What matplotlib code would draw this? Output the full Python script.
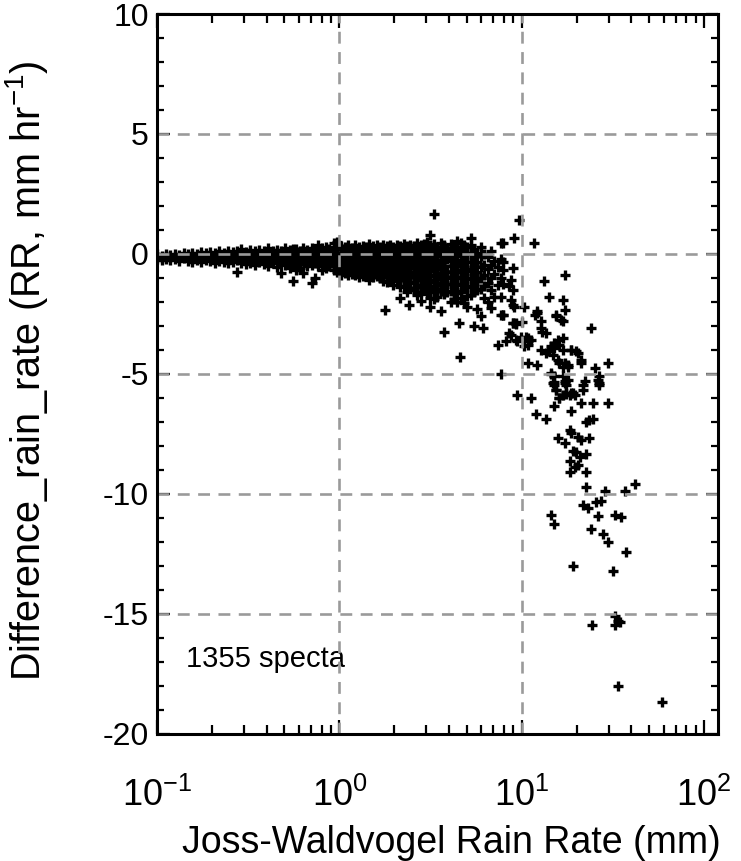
import matplotlib
matplotlib.use("Agg")
import matplotlib.pyplot as plt
from matplotlib.ticker import FixedLocator, FixedFormatter, MultipleLocator, NullFormatter

plt.rcParams['font.family'] = ['Liberation Sans', 'DejaVu Sans']
plt.rcParams['mathtext.fontset'] = 'custom'
plt.rcParams['mathtext.rm'] = 'Liberation Sans'
plt.rcParams['mathtext.it'] = 'Liberation Sans'
plt.rcParams['axes.unicode_minus'] = False

# ---- data ----
# dense band: JW rain rate columns and the differences found in each column
band_x = [0.100, 0.106, 0.112, 0.118, 0.125, 0.132, 0.140, 0.148, 0.156, 0.165,
          0.175, 0.185, 0.196, 0.207, 0.219, 0.232, 0.245, 0.260, 0.275, 0.290,
          0.307, 0.325, 0.344, 0.364, 0.385, 0.406, 0.430, 0.455, 0.480, 0.505,
          0.535, 0.557, 0.580, 0.610, 0.633, 0.665, 0.705, 0.735, 0.766, 0.800,
          0.840, 0.880, 0.930, 0.970, 1.02, 1.07, 1.12, 1.17, 1.22, 1.28,
          1.34, 1.40, 1.46, 1.53, 1.60, 1.67, 1.74, 1.79, 1.82, 1.90,
          1.98, 2.07, 2.16, 2.25, 2.35, 2.40, 2.45, 2.56, 2.67, 2.79,
          2.91, 3.04, 3.16, 3.30, 3.45, 3.60, 3.74, 3.76, 3.90, 4.08,
          4.25, 4.44, 4.53, 4.60, 4.63, 4.83, 5.04, 5.25, 5.48, 5.72,
          5.95, 6.10, 6.20, 6.50, 6.77, 7.05, 7.37, 7.69, 7.86]
band_y = [
    [-0.02, -0.12, -0.22], [-0.07, -0.17, -0.25], [0.0, -0.1, -0.22], [-0.05, -0.15, -0.27],
    [0.01, -0.09, -0.2], [-0.04, -0.13, -0.28], [0.03, -0.07, -0.18], [-0.02, -0.15, -0.28],
    [0.04, -0.06, -0.2, -0.33], [0.0, -0.1, -0.25], [0.06, -0.05, -0.18, -0.32],
    [0.02, -0.12, -0.26], [0.08, -0.03, -0.15, -0.3], [0.03, -0.08, -0.22, -0.36],
    [0.1, -0.01, -0.12, -0.28], [0.05, -0.06, -0.2, -0.35], [0.12, 0.01, -0.1, -0.25, -0.4],
    [0.07, -0.05, -0.18, -0.32], [0.13, 0.02, -0.1, -0.26, -0.74], [0.2, 0.05, -0.06, -0.2, -0.36],
    [0.09, -0.03, -0.15, -0.3, -0.42], [0.15, 0.04, -0.08, -0.22, -0.38],
    [0.1, -0.01, -0.12, -0.26, -0.45], [0.16, 0.05, -0.05, -0.18, -0.34],
    [0.12, 0.01, -0.1, -0.24, -0.42], [0.24, 0.08, -0.03, -0.16, -0.3, -0.5],
    [0.14, 0.03, -0.09, -0.22, -0.38], [0.18, 0.06, -0.05, -0.18, -0.33, -0.55],
    [0.1, 0.0, -0.12, -0.26, -0.42, -0.8], [0.24, 0.08, -0.02, -0.15, -0.3, -0.48],
    [0.15, 0.04, -0.08, -0.22, -0.38, -0.6], [0.2, 0.07, -0.05, -0.2, -0.35, -1.15],
    [0.2, 0.08, -0.04, -0.16, -0.3, -0.46, -0.66], [0.13, 0.01, -0.1, -0.24, -0.4, -0.58],
    [0.24, 0.1, -0.02, -0.15, -0.3, -0.8], [0.16, 0.04, -0.08, -0.22, -0.36, -0.52],
    [0.26, 0.12, 0.0, -0.14, -0.3, -0.48, -1.22], [0.18, 0.05, -0.08, -0.22, -0.38, -1.0],
    [0.37, 0.2, 0.07, -0.06, -0.2, -0.35, -0.52], [0.23, 0.09, -0.04, -0.18, -0.33, -0.48, -0.68],
    [0.28, 0.14, 0.01, -0.12, -0.27, -0.43, -0.6], [0.2, 0.07, -0.06, -0.2, -0.36, -0.52],
    [0.45, 0.28, 0.14, 0.0, -0.15, -0.3, -0.46, -0.66], [0.51, 0.19, 0.05, -0.1, -0.25, -0.4, -0.57, -0.76],
    [0.33, 0.19, 0.05, -0.1, -0.25, -0.4, -0.55, -0.72, -0.9],
    [0.28, 0.14, 0.0, -0.15, -0.3, -0.46, -0.62, -0.8],
    [0.36, 0.21, 0.07, -0.08, -0.22, -0.38, -0.54, -0.7, -0.88],
    [0.26, 0.11, -0.02, -0.18, -0.33, -0.48, -0.65, -0.82],
    [0.38, 0.23, 0.09, -0.05, -0.2, -0.35, -0.5, -0.68, -0.9],
    [0.3, 0.15, 0.0, -0.15, -0.3, -0.45, -0.6, -0.78, -0.98],
    [0.34, 0.19, 0.05, -0.1, -0.25, -0.4, -0.56, -0.73, -0.92],
    [0.28, 0.13, -0.02, -0.17, -0.32, -0.48, -0.65, -0.85],
    [0.4, 0.25, 0.1, -0.05, -0.2, -0.36, -0.52, -0.7, -0.88, -1.08],
    [0.32, 0.17, 0.02, -0.13, -0.28, -0.44, -0.6, -0.78, -0.97],
    [0.36, 0.21, 0.06, -0.1, -0.25, -0.4, -0.56, -0.73, -0.92],
    [0.28, 0.13, -0.02, -0.17, -0.32, -0.48, -0.64, -0.82, -1.02],
    [0.38, 0.23, 0.08, -0.07, -0.23, -0.38, -0.54, -0.71, -0.9, -1.12],
    [-2.33],
    [0.32, 0.17, 0.02, -0.13, -0.29, -0.44, -0.6, -0.77, -0.97, -1.18],
    [0.36, 0.21, 0.06, -0.1, -0.25, -0.41, -0.58, -0.75, -0.95],
    [0.3, 0.15, 0.0, -0.15, -0.31, -0.47, -0.63, -0.82, -1.02, -1.28],
    [0.38, 0.23, 0.08, -0.08, -0.23, -0.39, -0.56, -0.74, -0.92, -1.12],
    [0.34, 0.19, 0.04, -0.12, -0.27, -0.43, -0.6, -0.78, -0.98, -1.38, -1.85],
    [0.4, 0.25, 0.1, -0.06, -0.21, -0.37, -0.53, -0.7, -0.9, -1.1, -1.32],
    [0.32, 0.17, 0.02, -0.14, -0.29, -0.45, -0.62, -0.8, -1.0, -1.22, -1.58],
    [-2.12],
    [0.38, 0.23, 0.08, -0.08, -0.23, -0.39, -0.56, -0.74, -0.94, -1.16, -1.42],
    [0.34, 0.19, 0.04, -0.12, -0.27, -0.43, -0.6, -0.78, -0.98, -1.22, -1.52],
    [0.45, 0.27, 0.12, -0.04, -0.19, -0.35, -0.52, -0.7, -0.9, -1.1, -1.38, -1.71],
    [0.36, 0.21, 0.06, -0.1, -0.25, -0.41, -0.58, -0.78, -0.98, -1.28, -1.58, -1.95],
    [0.4, 0.24, 0.08, -0.08, -0.23, -0.39, -0.56, -0.76, -0.96, -1.18, -1.48],
    [0.48, 0.31, 0.15, -0.02, -0.18, -0.34, -0.5, -0.68, -0.88, -1.08, -1.32, -1.68],
    [0.79, 0.34, 0.18, 0.0, -0.18, -0.35, -0.53, -0.73, -0.93, -1.18, -1.48, -1.83, -2.2],
    [1.67, 0.4, 0.22, 0.04, -0.14, -0.31, -0.48, -0.68, -0.88, -1.08, -1.33, -1.58, -1.9],
    [0.3, 0.12, -0.06, -0.24, -0.41, -0.58, -0.78, -0.98, -1.22, -1.48, -1.78],
    [0.45, 0.26, 0.08, -0.1, -0.28, -0.45, -0.64, -0.84, -1.06, -1.28, -1.53, -2.4],
    [-3.24],
    [0.35, 0.12, -0.1, -0.3, -0.5, -0.72, -0.94, -1.16, -1.4, -1.68],
    [0.25, 0.02, -0.2, -0.75, -0.98, -1.25, -1.6],
    [0.4, 0.15, -0.08, -0.3, -0.52, -0.75, -1.0, -1.25, -1.55, -2.0],
    [0.28, 0.02, -0.24, -0.48, -0.72, -0.98, -1.25, -1.6, -1.9],
    [0.55, 0.28, 0.02, -0.24, -0.5, -0.76, -1.02, -1.3, -1.65, -2.0],
    [-2.89],
    [-4.3],
    [0.47, 0.18, -0.1, -0.38, -0.66, -0.95, -1.25, -1.55, -1.85],
    [0.36, 0.06, -0.25, -0.55, -0.85, -1.15, -1.48, -2.05],
    [0.3, -0.02, -0.35, -0.7, -1.05, -1.4, -1.75, -2.2],
    [0.68, 0.38, 0.02, -0.32, -0.65, -1.0, -1.35, -1.7],
    [0.2, -0.15, -0.5, -0.9, -1.25, -1.6, -3.0],
    [0.05, -0.35, -0.75, -1.15, -1.5, -2.3],
    [0.3, -0.1, -0.55, -1.0, -1.45, -2.6],
    [-3.1],
    [0.0, -0.45, -0.9, -1.35, -1.85],
    [-0.15, -0.65, -1.2, -2.0],
    [0.1, -0.45, -1.0, -1.5, -2.26],
    [-0.3, -0.85, -1.8],
    [-0.55, -1.3, -3.79],
    [0.47, -0.2, -1.0, -1.78, -2.54, -5.0],
    [0.45, -0.32, -0.67, -1.25, -2.54],
]

# sparse tail of heavier rain rates
tail_x = [9.70, 9.10, 11.7, 8.92, 13.3, 17.2, 14.2, 16.8, 17.2, 15.5,
          16.8, 24.1, 12.2, 12.8, 13.0, 13.6, 10.3, 8.92, 8.72, 8.72,
          8.92, 8.53, 9.10, 8.92, 9.30, 10.1, 8.53, 8.20, 9.48, 9.90,
          10.8, 10.8, 11.2, 10.3, 12.8, 13.9, 14.5, 15.1, 15.8, 16.8,
          12.8, 15.5, 16.5, 11.9, 12.2, 15.8, 17.2, 17.9, 18.7, 19.9,
          21.2, 10.8, 12.2, 25.2, 26.7, 26.7, 26.2, 29.8, 22.2, 21.6,
          14.5, 15.1, 15.5, 17.2, 17.5, 9.48, 11.2, 16.1, 18.7, 19.5,
          15.1, 21.6, 26.7, 16.8, 17.5, 15.1, 21.2, 24.5, 29.8, 12.0,
          13.6, 18.7, 22.6, 23.5, 24.5, 18.3, 18.7, 15.8, 17.2, 20.3,
          21.2, 23.5, 19.1, 19.9, 20.8, 22.6, 18.3, 19.5, 20.3, 22.6,
          18.3, 22.6, 28.5, 36.7, 41.6, 21.6, 23.1, 25.6, 27.3, 26.2,
          32.3, 35.1, 14.5, 15.0, 24.1, 27.8, 29.8, 37.5, 19.1, 31.6,
          24.3, 32.3, 33.7, 32.3, 34.5, 33.7, 58.6, 13.6, 15.1, 16.1,
          16.8, 18.7, 20.3, 21.2, 14.8, 16.1, 16.8, 17.9, 14.5, 15.1,
          16.8, 17.2, 17.9, 14.8, 15.5, 16.1, 17.5, 19.1, 18.3, 8.72,
          9.30, 10.5, 10.8, 8.92, 9.30, 7.86]
tail_y = [1.42, 0.65, 0.45, -0.60, -1.12, -0.90, -1.78, -1.92, -2.33, -2.58,
          -2.78, -3.10, -2.47, -2.78, -3.24, -3.30, -2.20, -2.12, -1.92, -1.08,
          -1.50, -1.36, -2.20, -2.89, -2.92, -2.82, -3.30, -3.65, -3.65, -3.45,
          -3.51, -3.79, -3.58, -3.86, -4.00, -4.07, -3.86, -3.72, -3.58, -3.51,
          -3.10, -2.54, -2.75, -2.54, -2.40, -4.42, -4.55, -4.70, -4.00, -4.07,
          -4.42, -4.55, -4.65, -4.76, -5.11, -5.39, -5.25, -4.55, -5.32, -5.67,
          -5.00, -5.36, -5.67, -5.32, -5.46, -5.88, -6.01, -6.01, -5.80, -5.88,
          -5.46, -5.46, -5.46, -5.90, -5.85, -6.33, -6.22, -6.22, -6.22, -6.67,
          -6.89, -6.57, -6.99, -6.92, -6.89, -7.36, -7.45, -7.68, -7.89, -7.64,
          -7.78, -7.68, -8.20, -8.24, -8.45, -8.33, -8.65, -8.89, -8.79, -9.11,
          -9.11, -9.70, -9.90, -9.90, -9.58, -10.46, -10.60, -10.36, -10.32, -10.92,
          -10.88, -10.97, -10.88, -11.25, -11.47, -11.67, -12.01, -12.45, -13.00, -13.24,
          -15.46, -15.11, -15.32, -15.46, -15.36, -18.00, -18.70, -4.14, -3.93, -3.79,
          -4.00, -4.00, -4.14, -4.55, -4.20, -4.55, -4.70, -4.63, -4.97, -5.11,
          -5.11, -5.39, -5.25, -5.39, -5.67, -6.01, -5.80, -5.80, -5.88, -3.38,
          -3.58, -3.45, -3.65, -2.89, -2.89, -2.54]

x_ticks = [0.1, 1, 10, 100]
x_tick_labels = [r'$\mathregular{10^{-1}}$', r'$\mathregular{10^{0}}$',
                 r'$\mathregular{10^{1}}$', r'$\mathregular{10^{2}}$']
y_ticks = [-20, -15, -10, -5, 0, 5, 10]
y_tick_labels = ['-20', '-15', '-10', '-5', '0', '5', '10']
annotation = '1355 specta'

# ---- build point lists ----
xs, ys = [], []
for xv, col in zip(band_x, band_y):
    for yv in col:
        xs.append(xv)
        ys.append(yv)
xs += tail_x
ys += tail_y

fig = plt.figure(figsize=(7.41, 8.61), dpi=100)
ax = fig.add_axes([0.2119, 0.148, 0.7577, 0.8357])

ax.set_xscale('log')
ax.set_xlim(0.1, 120)
ax.set_ylim(-20, 10)

grid_kw = dict(color='#9a9a9a', lw=1.9, ls=(0, (4.5, 3.2)), zorder=4)
for gx in [1, 10]:
    ax.axvline(gx, **grid_kw)
for gy in [-15, -10, -5, 0, 5]:
    ax.axhline(gy, **grid_kw)

ax.plot(xs, ys, ls='none', marker='+', color='black', ms=7, mew=2.4, zorder=3)

ax.xaxis.set_major_locator(FixedLocator(x_ticks))
ax.xaxis.set_major_formatter(FixedFormatter(x_tick_labels))
ax.xaxis.set_minor_locator(FixedLocator([m * d for d in [0.1, 1, 10] for m in range(2, 10)]))
ax.xaxis.set_minor_formatter(NullFormatter())
ax.yaxis.set_major_locator(FixedLocator(y_ticks))
ax.yaxis.set_major_formatter(FixedFormatter(y_tick_labels))
ax.yaxis.set_minor_locator(MultipleLocator(1))

ax.tick_params(axis='both', which='both', direction='in', top=True, right=True,
               width=1.6, colors='black')
ax.tick_params(axis='x', which='major', length=10, labelsize=26, pad=32)
ax.tick_params(axis='x', which='minor', length=6.5)
ax.tick_params(axis='y', which='major', length=9, labelsize=23, pad=6)
ax.tick_params(axis='y', which='minor', length=5)
for sp in ax.spines.values():
    sp.set_linewidth(2.2)
    sp.set_zorder(5)

ax.set_xlabel('Joss-Waldvogel Rain Rate (mm)', fontsize=27)
ax.xaxis.set_label_coords(0.524, -0.127)
ax.set_ylabel(r'Difference_rain_rate (RR, mm hr$^{\mathregular{-1}}$)', fontsize=28.5)
ax.yaxis.set_label_coords(-0.19, 0.505)
ax.text(0.052, 0.103, annotation, transform=ax.transAxes, fontsize=21,
        ha='left', va='center')

fig.savefig('out.png', dpi=100)
